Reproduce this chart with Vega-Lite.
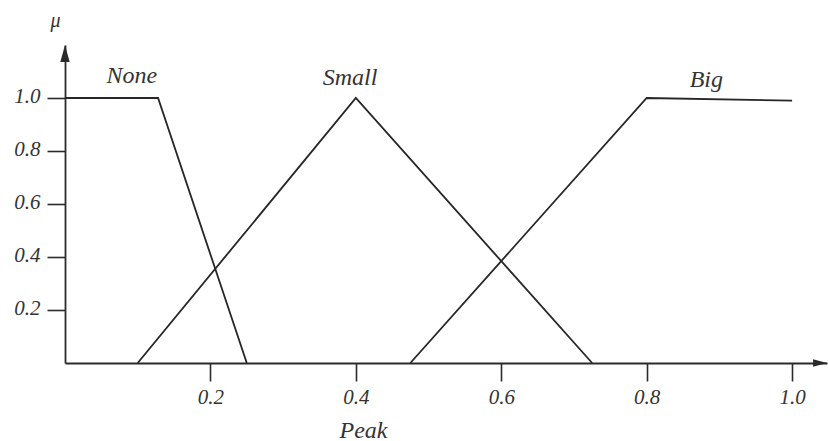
{
  "$schema": "https://vega.github.io/schema/vega-lite/v6.json",
  "width": 762,
  "height": 318,
  "autosize": "none",
  "padding": {"left": 65, "top": 45, "right": 1, "bottom": 78},
  "background": "white",
  "config": {
    "view": {"stroke": null},
    "axis": {
      "grid": false,
      "domainColor": "#2b2b2b",
      "domainWidth": 1.8,
      "tickColor": "#2b2b2b",
      "tickWidth": 1.6,
      "tickSize": 18,
      "labelFont": "Liberation Serif",
      "labelFontStyle": "italic",
      "labelFontSize": 21,
      "labelColor": "#333333",
      "labelFlush": false,
      "titleFont": "Liberation Serif",
      "titleFontStyle": "italic",
      "titleFontWeight": "normal",
      "titleColor": "#333333"
    }
  },
  "datasets": {
    "membership": [
      {"set": "None", "step": 0, "peak": 0.0, "mu": 1.0},
      {"set": "None", "step": 1, "peak": 0.128, "mu": 1.0},
      {"set": "None", "step": 2, "peak": 0.25, "mu": 0.0},
      {"set": "Small", "step": 0, "peak": 0.1, "mu": 0.0},
      {"set": "Small", "step": 1, "peak": 0.4, "mu": 1.0},
      {"set": "Small", "step": 2, "peak": 0.725, "mu": 0.0},
      {"set": "Big", "step": 0, "peak": 0.475, "mu": 0.0},
      {"set": "Big", "step": 1, "peak": 0.8, "mu": 1.0},
      {"set": "Big", "step": 2, "peak": 1.0, "mu": 0.99}
    ],
    "setNames": [
      {"name": "None", "peak": 0.092, "mu": 1.057},
      {"name": "Small", "peak": 0.392, "mu": 1.049},
      {"name": "Big", "peak": 0.882, "mu": 1.042}
    ],
    "yArrow": [{"peak": 0.0, "mu": 1.168}],
    "xArrow": [{"peak": 1.0385, "mu": 0.0}]
  },
  "layer": [
    {
      "data": {"name": "membership"},
      "mark": {"type": "line", "color": "#262626", "strokeWidth": 1.8},
      "encoding": {
        "x": {
          "field": "peak",
          "type": "quantitative",
          "scale": {"domain": [0, 1.048], "nice": false, "zero": false},
          "axis": {
            "values": [0.2, 0.4, 0.6, 0.8, 1.0],
            "format": ".1f",
            "labelPadding": 5,
            "title": "Peak",
            "titleFontSize": 24,
            "titleX": 298,
            "titleY": 74,
            "titleAlign": "center",
            "titleBaseline": "alphabetic"
          }
        },
        "y": {
          "field": "mu",
          "type": "quantitative",
          "scale": {"domain": [0, 1.2], "nice": false},
          "axis": {
            "values": [0.2, 0.4, 0.6, 0.8, 1.0],
            "format": ".1f",
            "labelPadding": 7,
            "labelOffset": -2,
            "title": "μ",
            "titleAngle": 0,
            "titleFontSize": 20,
            "titleX": -10,
            "titleY": -19,
            "titleAlign": "center",
            "titleBaseline": "alphabetic"
          }
        },
        "detail": {"field": "set"},
        "order": {"field": "step"}
      }
    },
    {
      "data": {"name": "setNames"},
      "mark": {
        "type": "text",
        "font": "Liberation Serif",
        "fontStyle": "italic",
        "fontSize": 24,
        "align": "center",
        "baseline": "alphabetic",
        "color": "#333333"
      },
      "encoding": {
        "x": {"field": "peak", "type": "quantitative"},
        "y": {"field": "mu", "type": "quantitative"},
        "text": {"field": "name"}
      }
    },
    {
      "data": {"name": "yArrow"},
      "mark": {
        "type": "point",
        "shape": "M0,-1L0.55,1L-0.55,1Z",
        "size": 289,
        "filled": true,
        "opacity": 1,
        "color": "#2b2b2b"
      },
      "encoding": {
        "x": {"field": "peak", "type": "quantitative"},
        "y": {"field": "mu", "type": "quantitative"}
      }
    },
    {
      "data": {"name": "xArrow"},
      "mark": {
        "type": "point",
        "shape": "M1,0L-1,-0.55L-1,0.55Z",
        "size": 196,
        "filled": true,
        "opacity": 1,
        "color": "#2b2b2b"
      },
      "encoding": {
        "x": {"field": "peak", "type": "quantitative"},
        "y": {"field": "mu", "type": "quantitative"}
      }
    }
  ]
}
